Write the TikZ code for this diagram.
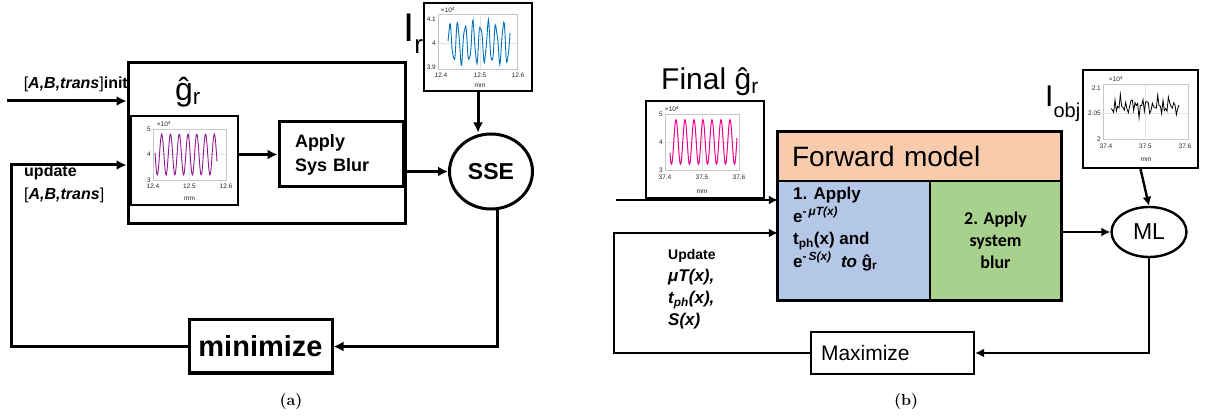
\documentclass[tikz,border=0pt]{standalone}
\usepackage{fontspec}
\setsansfont{Liberation Sans}
\newfontfamily\calibri{Carlito}
\usepackage{tikz}
\usetikzlibrary{arrows.meta,positioning,shapes.geometric}
\newcommand\fsz[2]{\fontsize{#1}{#2}\selectfont}
\definecolor{fwdorange}{HTML}{F8CBAD}
\definecolor{fwdblue}{HTML}{B4C7E7}
\definecolor{fwdgreen}{HTML}{A9D18E}
\definecolor{matblue}{HTML}{0072BD}
\definecolor{matpurple}{HTML}{8E1A8E}

\begin{document}
\begin{tikzpicture}[
  x=1pt,
  y=-1pt,
  font=\sffamily,
  blk/.style={draw, line width=3pt, inner sep=0pt},
  plotbox/.style={draw, line width=2.2pt, fill=white, inner sep=0pt},
  axbox/.style={draw=gray!45, line width=0.5pt},
  gridln/.style={draw=gray!22, line width=0.4pt},
  ticklbl/.style={font=\sffamily\fsz{6.5}{7}, text=gray!30!black, inner sep=0pt},
  conn/.style={-{Latex[length=10pt,width=10pt]}, line width=3pt},
  connb/.style={-{Latex[length=9pt,width=9pt]}, line width=2.4pt}
]
\useasboundingbox (0,0) rectangle (1207,419);

% ---------------- (a) calibration loop
\node[blk, minimum width=277, minimum height=161] (simbox) at (266.5,143.5) {};
\node[font=\sffamily\fsz{32}{32}, inner sep=0pt] (ghat) at (188,92) {ĝ\textsubscript{r}};
\node[anchor=east, font=\sffamily\fsz{16}{19}, inner sep=0pt] (initlbl) at (128,84) {[\textbf{\textit{A,B,trans}}]\textbf{init}};
\node[anchor=north west, align=left, font=\sffamily\fsz{16}{23}, inner sep=0pt] (updlbl) at (24,165) {\textbf{update}\\{}[\textbf{\textit{A,B,trans}}]};

% reconstructed g plot
\node[plotbox, minimum width=107, minimum height=89] (gplot) at (184.5,160.5) {};
\draw[gridln] (189.5,129) -- (189.5,180) (153,154.5) -- (226,154.5);
\draw[axbox] (153,129) rectangle (226,180);
\draw[matpurple, line width=0.9pt] plot[domain=155:217, samples=140] (\x,{154.5-20.4*sin(90+(\x-161.7)*41.05)});
\foreach \v/\y [count=\i] in {5/129,4/154.5,3/180}
  \node[ticklbl, anchor=east] (gay\i) at (151,\y) {\v};
\foreach \v/\xx [count=\i] in {12.4/153,12.5/189.5,12.6/226}
  \node[ticklbl, anchor=north] (gax\i) at (\xx,184) {\v};
\node[ticklbl] (gamm) at (189.5,199) {mm};
\node[ticklbl] (gaexp) at (164,124) {×10\textsuperscript{4}};

\node[blk, minimum width=124, minimum height=65, text width=92, inner xsep=16, align=left, font=\sffamily\bfseries\fsz{18}{24}] (blur) at (341,154.5) {Apply\\Sys Blur};
\node[draw, ellipse, line width=3pt, minimum width=83, minimum height=75, inner sep=0pt, font=\sffamily\bfseries\fsz{23}{23}] (sse) at (491,171.5) {SSE};

% measured I_r plot
\node[plotbox, minimum width=108, minimum height=88] (irplot) at (478,47) {};
\draw[gridln] (480,14) -- (480,69) (438,43) -- (517,43);
\draw[axbox] (438,14) rectangle (517,69);
\draw[matblue, line width=0.9pt] plot[domain=448:510, samples=110] (\x,{43-19*sin((\x-448)*47)+3*sin((\x-448)*113)-2*cos((\x-448)*71)});
\foreach \v/\y [count=\i] in {4.1/19,4/43,3.9/67}
  \node[ticklbl, anchor=east] (iry\i) at (436,\y) {\v};
\foreach \v/\xx [count=\i] in {12.4/441,12.5/480,12.6/518}
  \node[ticklbl, anchor=north] (irx\i) at (\xx,73) {\v};
\node[ticklbl] (irmm) at (480,86) {mm};
\node[ticklbl] (irexp) at (448,10) {×10\textsuperscript{4}};
\node[anchor=base west, font=\sffamily\fsz{40}{40}, inner sep=0pt] (irlbl) at (403,42) {I\raisebox{-0.28em}{\fsz{26}{26}r}};

\node[blk, minimum width=143, minimum height=53, font=\sffamily\bfseries\fsz{29}{29}] (mini) at (260.5,346.5) {minimize};

\coordinate (initin) at (7,101);
\coordinate (loopa) at (11,165);
\draw[conn] (initin) -- (initin -| simbox.west);
\draw[conn] (mini.west) -| (loopa) -- (loopa -| simbox.west);
\draw[conn] (gplot.east |- blur.west) -- (blur.west);
\draw[conn] (blur.east |- sse) -- (sse);
\draw[conn] (irplot.south) -- (irplot.south |- sse.north);
\draw[conn] ([xshift=6pt]sse.south) |- (mini.east);

\node[font=\rmfamily\bfseries\fsz{16}{16}] (capa) at (291,402) {(a)};

% ---------------- (b) reconstruction loop
\node[font=\sffamily\fsz{30}{30}, inner sep=0pt] (finlbl) at (710,82) {Final ĝ\textsubscript{r}};
\node[plotbox, minimum width=118, minimum height=97] (finplot) at (705,149.5) {};
\draw[gridln] (702,114) -- (702,170) (665,142) -- (739,142);
\draw[axbox] (665,114) rectangle (739,170);
\draw[magenta, line width=1pt] plot[domain=670:737, samples=150] (\x,{142-22.4*sin(90+(\x-676)*40)});
\foreach \v/\y [count=\i] in {5/114,4/142,3/170}
  \node[ticklbl, anchor=east] (finy\i) at (663,\y) {\v};
\foreach \v/\xx [count=\i] in {37.4/665,37.5/702,37.6/739}
  \node[ticklbl, anchor=north] (finx\i) at (\xx,175) {\v};
\node[ticklbl] (finmm) at (702,192) {mm};
\node[ticklbl] (finexp) at (672,109) {×10\textsuperscript{4}};

\node[fill=fwdorange, minimum width=283, minimum height=49, inner sep=0pt, inner xsep=14, text width=255, align=left, font=\sffamily\fsz{28}{28}] (fwdhead) at (919.5,156.5) {Forward model};
\node[fill=fwdblue, minimum width=152, minimum height=119, inner sep=0pt] (blue) at (854,240.5) {};
\node[fill=fwdgreen, minimum width=131, minimum height=119, inner sep=0pt, align=center, font=\calibri\bfseries\fsz{18}{22}] (green) at (995.5,240.5) {2. Apply\\system\\blur};
\node[anchor=north west, align=left, inner sep=0pt, font=\sffamily\bfseries\fsz{17}{22.5}] (bluetxt) at (793,187) {1. Apply\\e\textsuperscript{-\,\textit{μT(x)}}\\t\textsubscript{ph}(x) and\\e\textsuperscript{-\,\textit{S(x)}}\ \ \textit{to} ĝ\textsubscript{r}};
\draw[line width=3pt] (fwdhead.north west) rectangle (green.south east);
\draw[line width=2pt] (fwdhead.south west) -- (fwdhead.south east);
\draw[line width=2pt] (blue.north east) -- (blue.south east);

\node[anchor=north west, align=left, inner sep=0pt, font=\sffamily\bfseries\itshape\fsz{17}{22}] (updb) at (668,249) {{\upshape\fsz{14}{22}Update}\\μT(x),\\t\textsubscript{ph}(x),\\S(x)};

\node[draw, ellipse, line width=2.4pt, minimum width=75, minimum height=50, inner sep=0pt, font=\sffamily\fsz{23}{23}] (ml) at (1149,232) {ML};

% measured I_obj plot
\node[plotbox, minimum width=115, minimum height=98] (iobjplot) at (1140.5,119) {};
\draw[gridln] (1145.5,84) -- (1145.5,139) (1103,113.5) -- (1188,113.5);
\draw[axbox] (1103,84) rectangle (1188,139);
\draw[black, line width=0.8pt] plot[domain=1111:1179, samples=52] (\x,{106+5*sin((\x-1111)*67)+4*sin((\x-1111)*143+40)+3*sin((\x-1111)*29)});
\foreach \v/\y [count=\i] in {2.1/88,2.05/113.5,2/139}
  \node[ticklbl, anchor=east] (oby\i) at (1101,\y) {\v};
\foreach \v/\xx [count=\i] in {37.4/1106,37.5/1145.5,37.6/1185}
  \node[ticklbl, anchor=north] (obx\i) at (\xx,144) {\v};
\node[ticklbl] (obmm) at (1146,160) {mm};
\node[ticklbl] (obexp) at (1116,79) {×10\textsuperscript{4}};
\node[anchor=base west, font=\sffamily\fsz{30}{30}, inner sep=0pt] (iobjlbl) at (1045,107) {I\raisebox{-0.35em}{\fsz{20}{20}obj}};

\node[draw, line width=2.2pt, minimum width=163, minimum height=42, inner sep=0pt, inner xsep=10, text width=143, align=left, font=\sffamily\fsz{21}{21}] (maxi) at (892.5,353) {Maximize};

\coordinate (finin) at (616,200);
\coordinate (loopb) at (614,233);
\draw[connb] (finin) -- (finin -| fwdhead.west);
\draw[connb] (maxi.west) -| (loopb) -- (loopb -| fwdhead.west);
\draw[connb] (green.east |- ml) -- (ml);
\draw[connb] (iobjplot.south) -- (ml.north);
\draw[connb] (ml.south) |- (maxi.east);

\node[font=\rmfamily\bfseries\fsz{16}{16}] (capb) at (906,402) {(b)};
\end{tikzpicture}
\end{document}
